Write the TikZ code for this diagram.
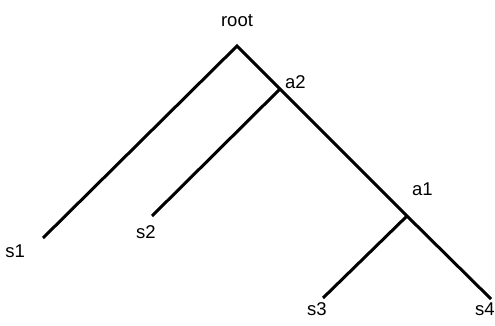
\documentclass[tikz,border=0pt]{standalone}
\usepackage{fontspec}
\setmainfont{Liberation Sans}
\usetikzlibrary{positioning}

\begin{document}
\begin{tikzpicture}[x=1pt, y=-1pt,
		br/.style={draw=black, line width=3pt},
		lb/.style={font=\fontsize{18.5}{20}\selectfont, inner sep=0pt}
		]
		\useasboundingbox (0,0) rectangle (495,326);

		\coordinate (root) at (237,46);
		\coordinate (a2) at (280,89);
		\coordinate (a1) at (407,216);
		\coordinate (s1) at (43,238);
		\coordinate (s2) at (152,216);
		\coordinate (s3) at (323,298);
		\coordinate (s4) at (491,299);

		\draw[br] (s1) -- (root) -- (a2) -- (a1) -- (s4);
		\draw[br] (a2) -- (s2);
		\draw[br] (a1) -- (s3);

		\node[lb, above=19pt of root] (lroot) {root};
		\node[lb, above right=0pt and 5pt of a2] (la2) {a2};
		\node[lb, above right=20pt and 5pt of a1] (la1) {a1};
		\node[lb, below left=7pt and 18pt of s1] (ls1) {s1};
		\node[lb, below=9pt of s2, xshift=-6pt] (ls2) {s2};
		\node[lb, below=4pt of s3, xshift=-6pt] (ls3) {s3};
		\node[lb, below=4pt of s4, xshift=-6pt] (ls4) {s4};
	\end{tikzpicture}
\end{document}
